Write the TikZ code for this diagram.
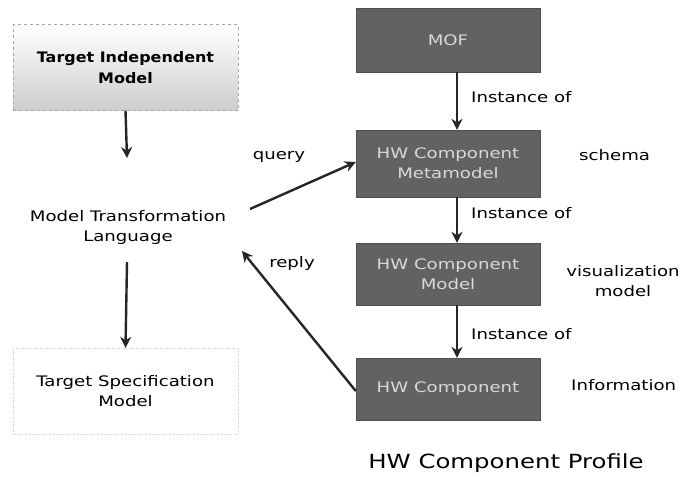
\documentclass[tikz,border=0pt]{standalone}
\usepackage{fontspec}
\setmainfont[FakeStretch=1.25]{DejaVu Sans}
\newfontfamily\boldfam[FakeStretch=1.1]{DejaVu Sans Bold}
\usetikzlibrary{arrows.meta}
\definecolor{darkbox}{RGB}{98,98,98}
\definecolor{lightbox}{RGB}{205,205,205}
\tikzset{
  x=1pt, y=-1pt,
  txt/.style={font=\fontsize{14.5}{20}\selectfont},
  hwbox/.style={txt, draw=darkbox!80!black, fill=darkbox, text=white!85!black, minimum width=184pt, minimum height=64pt, align=center, inner sep=0pt},
  leftbox/.style={txt, draw=gray!70, dashed, minimum width=225pt, minimum height=86pt, align=center, inner sep=0pt},
  lbl/.style={txt, align=center, inner sep=1pt},
  arr/.style={-{Stealth[length=11pt,width=11pt]}, line width=2.4pt, draw=black!85},
}
\begin{document}
\begin{tikzpicture}
\useasboundingbox (0,0) rectangle (680,477);
% left column
\node[leftbox, top color=white, bottom color=lightbox, font=\fontsize{14.5}{21}\boldfam] (tim) at (125.5,67.5) {Target Independent\\Model};
\node[lbl] (mtl) at (128,227) {Model Transformation\\Language};
\node[leftbox, draw=gray!40, dotted] (tsm) at (125.5,391) {Target Specification\\Model};
\coordinate (t1) at (127,158);
\coordinate (t2) at (127,262);
\draw[arr] (tim.south) -- (t1);
\draw[arr] (t2) -- (tsm.north);
% right column
\node[hwbox] (mof) at (448,40) {MOF};
\node[hwbox, minimum height=67pt] (meta) at (448,163.5) {HW Component\\Metamodel};
\node[hwbox, minimum height=62pt] (model) at (448,274) {HW Component\\Model};
\node[hwbox, minimum height=62pt] (comp) at (448,389) {HW Component};
\draw[arr] (mof.south -| 457,0) -- (meta.north -| 457,0);
\draw[arr] (meta.south -| 457,0) -- (model.north -| 457,0);
\draw[arr] (model.south -| 457,0) -- (comp.north -| 457,0);
\node[lbl, anchor=west] (i1) at (470,97) {Instance of};
\node[lbl, anchor=west] (i2) at (470,213) {Instance of};
\node[lbl, anchor=west] (i3) at (470,334) {Instance of};
\node[lbl, anchor=west] (sch) at (578,155) {schema};
\node[lbl] (vis) at (623,281) {visualization\\model};
\node[lbl, anchor=west] (inf) at (570,385) {Information};
\node[lbl, font=\fontsize{19.5}{23}\selectfont] (prof) at (506,463) {HW Component Profile};
% query / reply
\coordinate (qs) at (250,209);
\draw[arr] (qs) -- (meta.west |- 0,162);
\node[lbl] (q) at (279,157) {query};
\coordinate (re) at (242,251);
\draw[arr] (comp.west |- 0,391) -- (re);
\node[lbl] (r) at (292,263) {reply};
\end{tikzpicture}
\end{document}
